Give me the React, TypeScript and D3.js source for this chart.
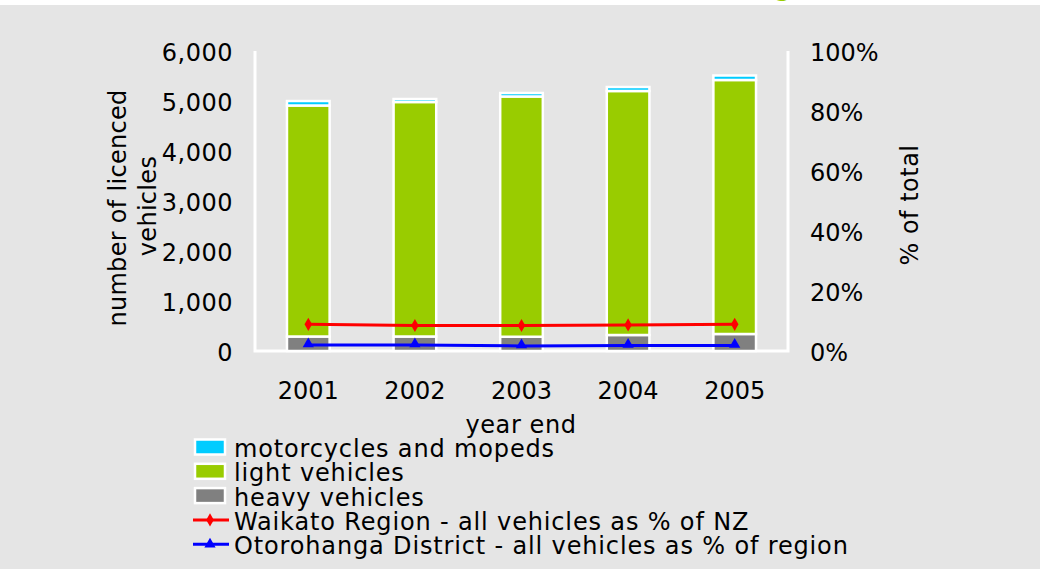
import * as d3 from 'd3';

// licensed vehicles in Otorohanga District, year end 2001-2005
const years = ['2001', '2002', '2003', '2004', '2005'];
const heavy = [290, 290, 285, 320, 340];
const light = [4620, 4690, 4805, 4880, 5080];
const motorcycles = [90, 60, 70, 80, 90];
const waikatoPctNZ = [8.9, 8.5, 8.5, 8.7, 8.9];
const otorohangaPctRegion = [2.0, 2.0, 1.7, 1.8, 1.8];

const leftTicks = [0, 1000, 2000, 3000, 4000, 5000, 6000];
const rightTicks = [0, 20, 40, 60, 80, 100];

const W = 1040;
const H = 569;
const M = { top: 51, right: 252, bottom: 218, left: 255 };
const FONT = '"DejaVu Sans", Verdana, sans-serif';
const BG = '#e5e5e5';

const series = [
  { key: 'heavy', label: 'heavy vehicles', color: '#808080', values: heavy },
  { key: 'light', label: 'light vehicles', color: '#99cc00', values: light },
  { key: 'moto', label: 'motorcycles and mopeds', color: '#00ccff', values: motorcycles },
];

export default function App() {
  const x0 = M.left;
  const x1 = W - M.right;
  const y0 = H - M.bottom;
  const y1 = M.top;

  const x = d3.scaleBand().domain(years).range([x0, x1]).paddingInner(0.6).paddingOuter(0.3);
  const yL = d3.scaleLinear().domain([0, 6000]).range([y0, y1]);
  const yR = d3.scaleLinear().domain([0, 100]).range([y0, y1]);

  const rows = years.map((yr, i) => ({
    year: yr,
    heavy: heavy[i],
    light: light[i],
    moto: motorcycles[i],
  }));
  const stacked = d3.stack<any>().keys(series.map((s) => s.key))(rows);

  const cx = (yr: string) => (x(yr) ?? 0) + x.bandwidth() / 2;
  const line = d3
    .line<number>()
    .x((_, i) => cx(years[i]))
    .y((d) => yR(d));

  const diamond = d3.symbol().type(d3.symbolDiamond).size(50)();
  const triangle = d3.symbol().type(d3.symbolTriangle).size(55)();

  const legendItems = [
    ...series
      .slice()
      .reverse()
      .map((s) => ({ type: 'box', label: s.label, color: s.color })),
    { type: 'line', label: 'Waikato Region - all vehicles as % of NZ', color: '#ff0000', marker: diamond },
    { type: 'line', label: 'Otorohanga District - all vehicles as % of region', color: '#0000ff', marker: triangle },
  ];

  return (
    <div style={{ position: 'absolute', left: 0, top: 0 }}>
      <svg width={W} height={H} style={{ display: 'block', fontFamily: FONT }}>
        <rect x={0} y={0} width={W} height={H} fill="#ffffff" />
        <rect x={0} y={5} width={W} height={H - 5} fill={BG} />
        {/* title, almost entirely cut off at the top */}
        <text x={808} y={-4} textAnchor="end" fontSize={24} fontWeight="bold" fill="#99cc00">
          Otorohanga
        </text>

        {/* frame */}
        <path
          d={`M${x0},${y1} V${y0} H${x1} V${y1}`}
          fill="none"
          stroke="#ffffff"
          strokeWidth={3}
        />

        {/* stacked bars */}
        {stacked.map((layer, li) => (
          <g key={layer.key} fill={series[li].color}>
            {layer.map((d, i) => (
              <rect
                key={years[i]}
                x={x(years[i])}
                y={yL(d[1])}
                width={x.bandwidth()}
                height={yL(d[0]) - yL(d[1])}
                stroke="#ffffff"
                strokeWidth={2.5}
              />
            ))}
          </g>
        ))}

        {/* percentage lines */}
        <path d={line(waikatoPctNZ) ?? ''} fill="none" stroke="#ff0000" strokeWidth={3} />
        {waikatoPctNZ.map((v, i) => (
          <path key={i} d={diamond ?? ''} transform={`translate(${cx(years[i])},${yR(v)})`} fill="#ff0000" />
        ))}
        <path d={line(otorohangaPctRegion) ?? ''} fill="none" stroke="#0000ff" strokeWidth={3} />
        {otorohangaPctRegion.map((v, i) => (
          <path key={i} d={triangle ?? ''} transform={`translate(${cx(years[i])},${yR(v) - 1})`} fill="#0000ff" />
        ))}

        {/* left axis */}
        {leftTicks.map((t) => (
          <text key={t} x={233} y={yL(t) + 2} textAnchor="end" dominantBaseline="central" fontSize={24} letterSpacing={0.5}>
            {d3.format(',')(t)}
          </text>
        ))}
        <text transform="translate(118,208) rotate(-90)" textAnchor="middle" dominantBaseline="central" fontSize={24} letterSpacing={0.3}>
          number of licenced
        </text>
        <text transform="translate(148,206) rotate(-90)" textAnchor="middle" dominantBaseline="central" fontSize={24} letterSpacing={0.3}>
          vehicles
        </text>

        {/* right axis */}
        {rightTicks.map((t) => (
          <text key={t} x={810} y={yR(t) + 2} textAnchor="start" dominantBaseline="central" fontSize={24}>
            {t}%
          </text>
        ))}
        <text transform="translate(910,205) rotate(-90)" textAnchor="middle" dominantBaseline="central" fontSize={24} letterSpacing={0.5}>
          % of total
        </text>

        {/* x axis */}
        {years.map((yr) => (
          <text key={yr} x={cx(yr)} y={391} textAnchor="middle" dominantBaseline="central" fontSize={24}>
            {yr}
          </text>
        ))}
        <text x={521} y={425} textAnchor="middle" dominantBaseline="central" fontSize={24} letterSpacing={0.6}>
          year end
        </text>

        {/* legend */}
        {legendItems.map((it, i) => {
          const ly = 447 + i * 24.3;
          return (
            <g key={it.label} transform={`translate(0,${ly})`}>
              {it.type === 'box' ? (
                <rect x={195} y={-7.5} width={30} height={15} fill={it.color} stroke="#ffffff" strokeWidth={2.5} />
              ) : (
                <g>
                  <line x1={193} x2={229} y1={0} y2={0} stroke={it.color} strokeWidth={3} />
                  <path d={(it as any).marker ?? ''} transform="translate(210,0)" fill={it.color} />
                </g>
              )}
              <text x={234} y={2} dominantBaseline="central" fontSize={24} letterSpacing={0.85}>
                {it.label}
              </text>
            </g>
          );
        })}
      </svg>
    </div>
  );
}
